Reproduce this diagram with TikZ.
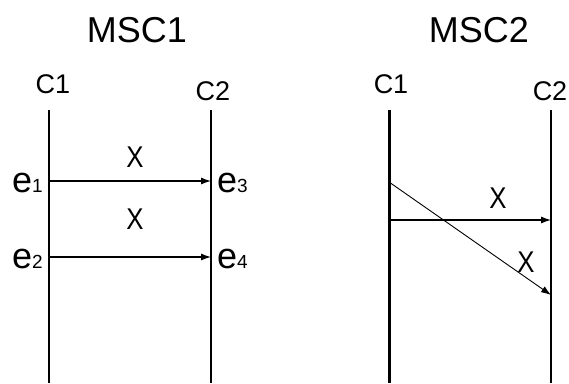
\documentclass[tikz,border=0pt]{standalone}
\usepackage{fontspec}
\setmainfont{Liberation Sans}
\usetikzlibrary{arrows.meta}

% event name with a small index
\newcommand{\evt}[1]{{\fontsize{36}{36}\selectfont e}{\fontsize{19}{19}\selectfont #1}}

\begin{document}
\begin{tikzpicture}[x=1pt,y=-1pt,
    title/.style={font=\fontsize{36}{36}\selectfont},
    inst/.style={font=\fontsize{27}{27}\selectfont},
    lbl/.style={font=\fontsize{30}{30}\selectfont, xscale=0.86, transform shape},
    evname/.style={inner sep=0pt},
    life/.style={line width=2pt},
    msg/.style={line width=1.1pt,-{Latex[length=10pt,width=7pt]}}]

    \useasboundingbox (0,0) rectangle (569,383);

    % MSC1
    \node[title] (t1) at (137, 30) {MSC1};
    \node[inst] (a) at (53, 84) {C1};
    \node[inst] (b) at (213, 91) {C2};
    \coordinate (a0) at (49, 110);
    \coordinate (a1) at (49, 383);
    \coordinate (b0) at (211, 110);
    \coordinate (b1) at (211, 383);
    \draw[life] (a0) -- (a1);
    \draw[life] (b0) -- (b1);

    \coordinate (s1) at (49, 181);
    \coordinate (r1) at (211, 181);
    \coordinate (s2) at (49, 257);
    \coordinate (r2) at (211, 257);
    \node[evname, anchor=base east] (e1) at (43, 192) {\evt{1}};
    \node[evname, anchor=base east] (e2) at (43, 268) {\evt{2}};
    \node[evname, anchor=base west] (e3) at (217, 192) {\evt{3}};
    \node[evname, anchor=base west] (e4) at (217, 268) {\evt{4}};
    \node[lbl] (x1) at (135, 157) {X};
    \node[lbl] (x2) at (135, 219) {X};
    \draw[msg] (s1) -- (r1);
    \draw[msg] (s2) -- (r2);

    % MSC2
    \node[title] (t2) at (479, 30) {MSC2};
    \node[inst] (c) at (391, 84) {C1};
    \node[inst] (d) at (550, 91) {C2};
    \coordinate (c0) at (389, 110);
    \coordinate (c1) at (389, 383);
    \coordinate (d0) at (551, 110);
    \coordinate (d1) at (551, 383);
    \draw[life, line width=3pt] (c0) -- (c1);
    \draw[life] (d0) -- (d1);

    \coordinate (s3) at (389, 182);
    \coordinate (r3) at (551, 295);
    \coordinate (s4) at (389, 220);
    \coordinate (r4) at (551, 220);
    \node[lbl] (x3) at (498, 198) {X};
    \node[lbl] (x4) at (526, 262) {X};
    \draw[msg] (s4) -- (r4);
    \draw[msg, line width=0.9pt] (s3) -- (r3);

\end{tikzpicture}
\end{document}
